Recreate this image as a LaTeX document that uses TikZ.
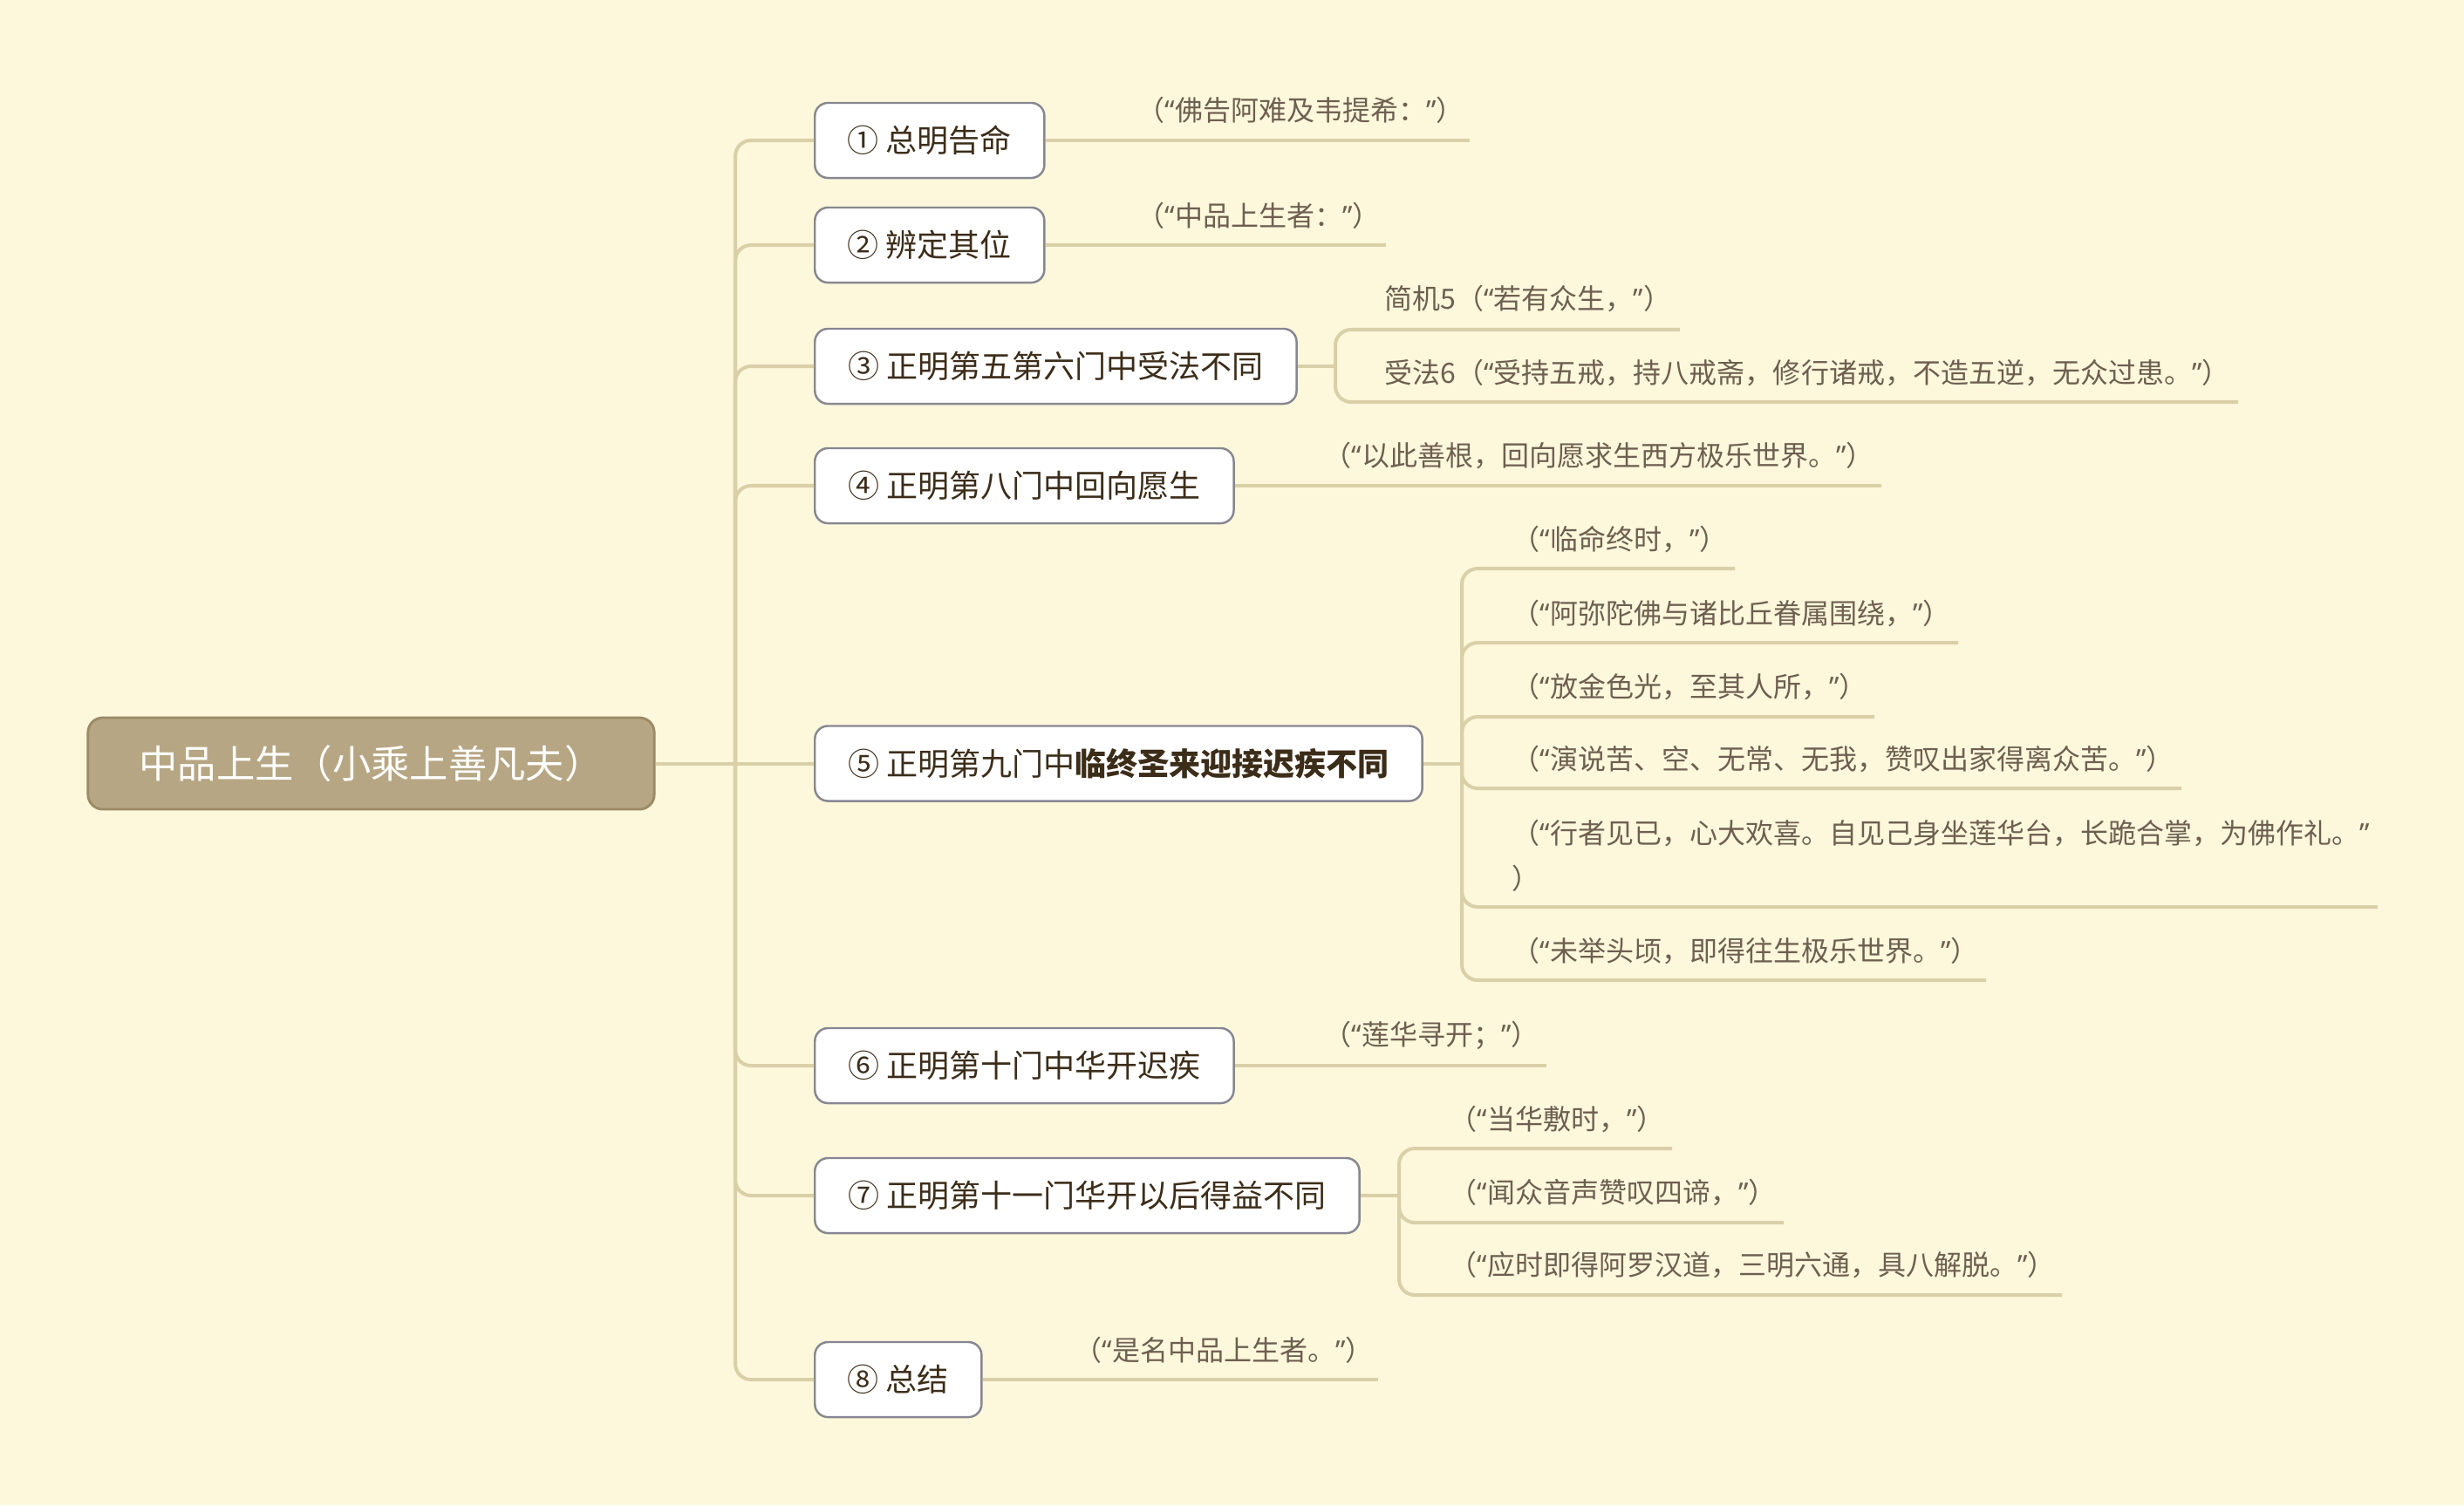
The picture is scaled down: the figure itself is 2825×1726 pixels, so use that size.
\documentclass[tikz,border=0pt]{standalone}
\usepackage{fontspec}
\newfontfamily\cjk{Noto Sans CJK SC}
\newfontfamily\latn{Noto Sans}
% narrow (proportional) quotation marks inside the CJK quotations
\newcommand\oqt{{\latn “}}
\newcommand\cqt{{\latn ”}}
\definecolor{paper}{HTML}{FDF8DC}
\definecolor{linecol}{HTML}{DAD0A8}
\definecolor{rootfill}{HTML}{B6A683}
\definecolor{rootborder}{HTML}{9B8A64}
\definecolor{nodeborder}{HTML}{878791}
\definecolor{branchtext}{HTML}{3C2D19}
\definecolor{leaftext}{HTML}{6E5F50}
\begin{document}
\begin{tikzpicture}[x=0.01cm,y=-0.01cm,
  conn/.style={draw=linecol,line width=1.15pt,rounded corners=0.18cm},
  rootbox/.style={fill=rootfill,draw=rootborder,line width=0.8pt,rounded corners=0.17cm,
    minimum width=6.49cm,minimum height=1.05cm,inner sep=0,text=white,
    font=\cjk\fontsize{12.6}{14}\selectfont},
  branch/.style={fill=white,draw=nodeborder,line width=0.7pt,rounded corners=0.15cm,
    minimum height=0.86cm,inner sep=0,anchor=west,text=branchtext,
    font=\cjk\fontsize{10.24}{12}\selectfont},
  leaf/.style={inner sep=0,anchor=west,text=leaftext,align=left,
    font=\cjk\fontsize{9.1}{14.8}\selectfont}]
\fill[paper] (0,0) rectangle (2825,1726);
\useasboundingbox (0,0) rectangle (2825,1726);

% central topic and main branches
\node[rootbox] (root) at (425.5,875.5) {中品上生（小乘上善凡夫）};
\coordinate (hub) at (843,875.5);
\node[branch,minimum width=2.63cm] (n1) at (933,161) {① 总明告命};
\node[branch,minimum width=2.63cm] (n2) at (933,281) {② 辨定其位};
\node[branch,minimum width=5.52cm] (n3) at (933,420) {③ 正明第五第六门中受法不同};
\node[branch,minimum width=4.80cm] (n4) at (933,557) {④ 正明第八门中回向愿生};
\node[branch,minimum width=6.96cm] (n5) at (933,875.5) {⑤ 正明第九门中{\bfseries 临终圣来迎接迟疾不同}};
\node[branch,minimum width=4.80cm] (n6) at (933,1222) {⑥ 正明第十门中华开迟疾};
\node[branch,minimum width=6.24cm] (n7) at (933,1371) {⑦ 正明第十一门华开以后得益不同};
\node[branch,minimum width=1.91cm] (n8) at (933,1582) {⑧ 总结};

\draw[conn] (root.east) -- (n5.west);
\foreach \n in {n1,n2,n3,n4,n6,n7,n8} \draw[conn] (hub) |- (\n.west);

% single quotations
\coordinate (e1) at (1685,161);
\draw[conn] (n1.east) -- (e1);
\node[leaf] (t1) at (1303,126) {（\oqt 佛告阿难及韦提希：\cqt）};

\coordinate (e2) at (1589,281);
\draw[conn] (n2.east) -- (e2);
\node[leaf] (t2) at (1303,247) {（\oqt 中品上生者：\cqt）};

\coordinate (e4) at (2157,557);
\draw[conn] (n4.east) -- (e4);
\node[leaf] (t4) at (1517,522) {（\oqt 以此善根，回向愿求生西方极乐世界。\cqt）};

\coordinate (e6) at (1773,1222);
\draw[conn] (n6.east) -- (e6);
\node[leaf] (t6) at (1517,1187) {（\oqt 莲华寻开；\cqt）};

\coordinate (e8) at (1580,1582);
\draw[conn] (n8.east) -- (e8);
\node[leaf] (t8) at (1231,1548) {（\oqt 是名中品上生者。\cqt）};

% branch 3
\coordinate (hub3) at (1531,420);
\draw[conn] (n3.east) -- (hub3);
\coordinate (e31) at (1926,378);
\coordinate (e32) at (2566,461);
\draw[conn] (hub3) |- (e31);
\draw[conn] (hub3) |- (e32);
\node[leaf] (t31) at (1587,342) {简机5（\oqt 若有众生，\cqt）};
\node[leaf] (t32) at (1587,427) {受法6（\oqt 受持五戒，持八戒斋，修行诸戒，不造五逆，无众过患。\cqt）};

% branch 5
\coordinate (hub5) at (1676,875.5);
\draw[conn] (n5.east) -- (hub5);
\coordinate (e51) at (1989,652);
\coordinate (e52) at (2245,737);
\coordinate (e53) at (2149,822);
\coordinate (e54) at (2501,904);
\coordinate (e55) at (2726,1040);
\coordinate (e56) at (2277,1124);
\foreach \e in {e51,e52,e53,e54,e55,e56} \draw[conn] (hub5) |- (\e);
\node[leaf] (t51) at (1733,618) {（\oqt 临命终时，\cqt）};
\node[leaf] (t52) at (1733,703) {（\oqt 阿弥陀佛与诸比丘眷属围绕，\cqt）};
\node[leaf] (t53) at (1733,787) {（\oqt 放金色光，至其人所，\cqt）};
\node[leaf] (t54) at (1733,870) {（\oqt 演说苦、空、无常、无我，赞叹出家得离众苦。\cqt）};
\node[leaf] (t55) at (1733,981) {（\oqt 行者见已，心大欢喜。自见己身坐莲华台，长跪合掌，为佛作礼。\cqt\\）};
\node[leaf] (t56) at (1733,1090) {（\oqt 未举头顷，即得往生极乐世界。\cqt）};

% branch 7
\coordinate (hub7) at (1604,1371);
\draw[conn] (n7.east) -- (hub7);
\coordinate (e71) at (1917,1317);
\coordinate (e72) at (2045,1402);
\coordinate (e73) at (2364,1485);
\foreach \e in {e71,e72,e73} \draw[conn] (hub7) |- (\e);
\node[leaf] (t71) at (1661,1283) {（\oqt 当华敷时，\cqt）};
\node[leaf] (t72) at (1661,1367) {（\oqt 闻众音声赞叹四谛，\cqt）};
\node[leaf] (t73) at (1661,1450) {（\oqt 应时即得阿罗汉道，三明六通，具八解脱。\cqt）};
\end{tikzpicture}
\end{document}
